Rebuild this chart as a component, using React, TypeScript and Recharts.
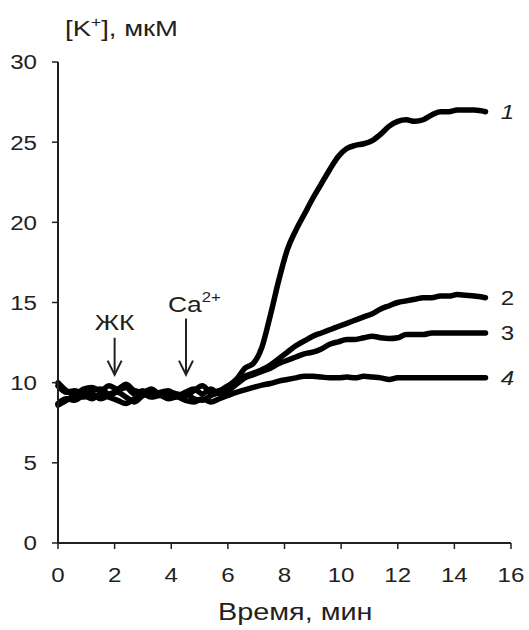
import { LineChart, Line, XAxis, YAxis, ReferenceLine, ReferenceDot } from "recharts";

const FONT = '"Liberation Sans", Arial, sans-serif';
const INK = "#231f20";

// time, min
const T = [
  0, 0.3, 0.6, 0.9, 1.2, 1.5, 1.8, 2.1, 2.4, 2.7, 3.0, 3.3, 3.6, 3.9, 4.2, 4.5, 4.8, 5.1, 5.4, 5.7,
  6.0, 6.3, 6.6, 6.9, 7.2, 7.5, 7.8, 8.1, 8.4, 8.7, 9.0, 9.3, 9.6, 9.9, 10.2, 10.5, 10.8, 11.1, 11.4, 11.7,
  12.0, 12.3, 12.6, 12.9, 13.2, 13.5, 13.8, 14.1, 14.4, 14.7, 15.1,
];
// [K+], uM
const S1 = [
  10.0, 9.5, 9.3, 9.6, 9.7, 9.5, 9.8, 9.6, 9.9, 9.5, 9.4, 9.6, 9.3, 9.4, 9.3, 9.2, 9.5, 9.8, 9.4, 9.5,
  9.8, 10.2, 10.9, 11.2, 12.2, 14.2, 16.4, 18.3, 19.5, 20.5, 21.5, 22.4, 23.3, 24.1, 24.6, 24.8, 24.9, 25.1, 25.5, 26.0,
  26.3, 26.4, 26.3, 26.4, 26.7, 26.9, 26.9, 27.0, 27.0, 27.0, 26.9,
];
const S2 = [
  8.6, 8.9, 9.2, 9.1, 9.3, 9.0, 9.2, 9.4, 9.1, 8.8, 9.2, 9.4, 9.3, 9.1, 9.2, 9.3, 9.0, 8.9, 9.2, 9.4,
  9.7, 10.1, 10.4, 10.6, 10.8, 11.1, 11.5, 11.9, 12.3, 12.6, 12.9, 13.1, 13.3, 13.5, 13.7, 13.9, 14.1, 14.3, 14.6, 14.8,
  15.0, 15.1, 15.2, 15.3, 15.3, 15.4, 15.4, 15.5, 15.45, 15.4, 15.3,
];
const S3 = [
  9.8, 9.4, 9.5, 9.3, 9.5, 9.6, 9.3, 9.5, 9.7, 9.3, 9.5, 9.2, 9.4, 9.5, 9.2, 9.4, 9.6, 9.3, 9.6, 9.3,
  9.5, 9.9, 10.3, 10.5, 10.7, 10.9, 11.2, 11.4, 11.6, 11.8, 11.9, 12.1, 12.4, 12.55, 12.7, 12.7, 12.8, 12.9, 12.8, 12.75,
  12.8, 13.0, 13.0, 13.0, 13.1, 13.1, 13.1, 13.1, 13.1, 13.1, 13.1,
];
const S4 = [
  8.7, 9.0, 8.9, 9.2, 9.0, 9.3, 9.1, 8.9, 8.7, 9.0, 9.3, 9.1, 9.2, 9.0, 9.1, 8.9, 8.8, 9.0, 8.8, 9.0,
  9.2, 9.4, 9.55, 9.7, 9.85, 9.95, 10.1, 10.2, 10.3, 10.4, 10.4, 10.35, 10.3, 10.3, 10.35, 10.3, 10.4, 10.35, 10.3, 10.2,
  10.3, 10.3, 10.3, 10.3, 10.3, 10.3, 10.3, 10.3, 10.3, 10.3, 10.3,
];

const X_TICKS = [0, 2, 4, 6, 8, 10, 12, 14, 16];
const Y_TICKS = [0, 5, 10, 15, 20, 25, 30];

const SERIES = [
  { key: "s1", name: "1", values: S1, italic: true },
  { key: "s2", name: "2", values: S2, italic: false },
  { key: "s3", name: "3", values: S3, italic: false },
  { key: "s4", name: "4", values: S4, italic: true },
];

// additions: label, time, arrow top, arrow tip, label baseline
const MARKS = [
  { label: "ЖК", sup: "", t: 2, top: 12.8, tip: 10.5, text: 13.3 },
  { label: "Ca", sup: "2+", t: 4.52, top: 14.0, tip: 10.5, text: 14.4 },
];

const data = T.map((t, i) => ({ t, s1: S1[i], s2: S2[i], s3: S3[i], s4: S4[i] }));
const last = T.length - 1;

function XTick({ x, y, payload }: any) {
  return (
    <g transform={`translate(${x},${y})`}>
      <text transform="scale(1.15,1)" textAnchor="middle" dy="0.71em" fontSize={21} fill={INK} fontFamily={FONT}>
        {payload.value}
      </text>
    </g>
  );
}

function YTick({ x, y, payload }: any) {
  return (
    <g transform={`translate(${x},${y})`}>
      <text transform="scale(1.15,1)" textAnchor="end" dy="0.355em" fontSize={21} fill={INK} fontFamily={FONT}>
        {payload.value}
      </text>
    </g>
  );
}

function ArrowHead({ cx, cy }: any) {
  return <path d={`M${cx - 7},${cy - 14} L${cx},${cy} L${cx + 7},${cy - 14}`} fill="none" stroke={INK} strokeWidth={2} />;
}

export default function App() {
  return (
    <div style={{ position: "relative", width: 529, height: 630, background: "#fff", fontFamily: FONT }}>
      <style>{"body{margin:0}"}</style>
      <LineChart width={529} height={630} data={data} margin={{ top: 62, right: 18, bottom: 47, left: 0 }}>
        <XAxis
          dataKey="t"
          type="number"
          domain={[0, 16]}
          ticks={X_TICKS}
          height={40}
          axisLine={{ stroke: INK, strokeWidth: 2 }}
          tickLine={{ stroke: INK, strokeWidth: 1.5 }}
          tickSize={6}
          tickMargin={18}
          tick={<XTick />}
          interval={0}
        />
        <YAxis
          type="number"
          domain={[0, 30]}
          ticks={Y_TICKS}
          width={58}
          axisLine={{ stroke: INK, strokeWidth: 2 }}
          tickLine={{ stroke: INK, strokeWidth: 1.5 }}
          tickSize={6}
          tickMargin={15}
          tick={<YTick />}
          interval={0}
        />
        {SERIES.map((s) => (
          <Line
            key={s.key}
            dataKey={s.key}
            type="monotone"
            stroke="#000"
            strokeWidth={5.5}
            strokeLinejoin="round"
            strokeLinecap="round"
            dot={false}
            activeDot={false}
            isAnimationActive={false}
          />
        ))}
        {SERIES.map((s) => (
          <ReferenceDot
            key={"lbl" + s.key}
            x={T[last]}
            y={s.values[last]}
            r={0}
            shape={(p: any) => (
              <g transform={`translate(${p.cx + 22},${p.cy})`}>
                <text
                  transform="scale(1.15,1)"
                  textAnchor="middle"
                  dy="0.355em"
                  fontSize={21}
                  fontStyle={s.italic ? "italic" : "normal"}
                  fill={INK}
                  fontFamily={FONT}
                >
                  {s.name}
                </text>
              </g>
            )}
          />
        ))}
        {MARKS.map((m) => (
          <ReferenceLine
            key={"ln" + m.label}
            segment={[{ x: m.t, y: m.top }, { x: m.t, y: m.tip }]}
            stroke={INK}
            strokeWidth={2}
          />
        ))}
        {MARKS.map((m) => (
          <ReferenceDot key={"ah" + m.label} x={m.t} y={m.tip} r={0} shape={(p: any) => <ArrowHead {...p} />} />
        ))}
        {MARKS.map((m) => (
          <ReferenceDot
            key={"tx" + m.label}
            x={m.t}
            y={m.text}
            r={0}
            shape={(p: any) => (
              <g transform={`translate(${m.sup ? p.cx - 18 : p.cx},${p.cy})`}>
                <text
                  transform="scale(1.2,1)"
                  textAnchor={m.sup ? "start" : "middle"}
                  fontSize={22}
                  fill={INK}
                  fontFamily={FONT}
                >
                  {m.label}
                  {m.sup && (
                    <tspan fontSize={14} dy={-10}>
                      {m.sup}
                    </tspan>
                  )}
                </text>
              </g>
            )}
          />
        ))}
      </LineChart>
      <div
        style={{
          position: "absolute",
          left: 65,
          top: 18,
          fontSize: 22,
          lineHeight: "22px",
          color: INK,
          whiteSpace: "nowrap",
          transform: "scaleX(1.25)",
          transformOrigin: "left top",
        }}
      >
        [K<span style={{ fontSize: 14, position: "relative", top: -9 }}>+</span>], мкМ
      </div>
      <div
        style={{
          position: "absolute",
          left: 218,
          top: 600,
          fontSize: 24,
          lineHeight: "24px",
          color: INK,
          whiteSpace: "nowrap",
          transform: "scaleX(1.2)",
          transformOrigin: "left top",
        }}
      >
        Время, мин
      </div>
    </div>
  );
}
